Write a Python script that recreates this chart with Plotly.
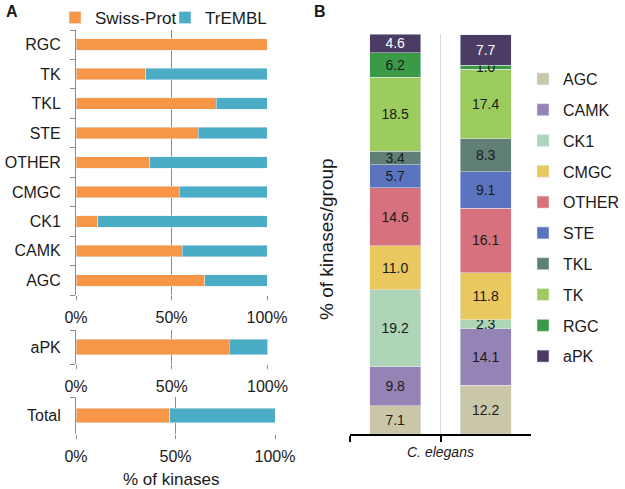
import plotly.graph_objects as go

# ---------------- data ----------------
groups_a = ["RGC", "TK", "TKL", "STE", "OTHER", "CMGC", "CK1", "CAMK", "AGC"]
swiss_a = [100.0, 36.6, 73.3, 63.9, 38.7, 54.1, 11.3, 55.5, 67.5]
trembl_a = [0.0, 63.4, 26.7, 36.1, 61.3, 45.9, 88.7, 44.5, 32.5]

apk_label = ["aPK"]
apk_swiss = [80.1]
apk_trembl = [19.9]

total_label = ["Total"]
total_swiss = [47.0]
total_trembl = [53.0]

groups_b = ["AGC", "CAMK", "CK1", "CMGC", "OTHER", "STE", "TKL", "TK", "RGC", "aPK"]
columns_b = ["col1", "col2"]
col1_b = [7.1, 9.8, 19.2, 11.0, 14.6, 5.7, 3.4, 18.5, 6.2, 4.6]
col2_b = [12.2, 14.1, 2.3, 11.8, 16.1, 9.1, 8.3, 17.4, 1.0, 7.7]

# ---------------- style ----------------
W, H = 625, 489
FONT = "Liberation Sans, Arial, sans-serif"
TXT = "#1a1a1a"
ORANGE = "#F79646"
BLUE = "#4BACC6"
GRID_A = "#8c8c8c"
colors_b = ["#C9C7A7", "#9583B6", "#AED5B7", "#E9C95F", "#D7717D",
            "#5B74C0", "#5F7F77", "#9DCC5E", "#3B9A48", "#4B3C63"]
text_colors_b = [TXT] * 9 + ["white"]


def px_x(p):
    return p / W


def px_y(p):
    return 1 - p / H


fig = go.Figure()

# Panel A main
fig.add_trace(go.Bar(x=swiss_a, y=groups_a, orientation="h", name="Swiss-Prot",
                     marker_color=ORANGE, width=0.39, xaxis="x", yaxis="y",
                     legend="legend"))
fig.add_trace(go.Bar(x=trembl_a, y=groups_a, orientation="h", name="TrEMBL",
                     marker_color=BLUE, width=0.39, xaxis="x", yaxis="y",
                     legend="legend3"))
# aPK
fig.add_trace(go.Bar(x=apk_swiss, y=apk_label, orientation="h", name="Swiss-Prot",
                     marker_color=ORANGE, width=0.45, xaxis="x2", yaxis="y2", showlegend=False))
fig.add_trace(go.Bar(x=apk_trembl, y=apk_label, orientation="h", name="TrEMBL",
                     marker_color=BLUE, width=0.45, xaxis="x2", yaxis="y2", showlegend=False))
# Total
fig.add_trace(go.Bar(x=total_swiss, y=total_label, orientation="h", name="Swiss-Prot",
                     marker_color=ORANGE, width=0.40, xaxis="x3", yaxis="y3", showlegend=False))
fig.add_trace(go.Bar(x=total_trembl, y=total_label, orientation="h", name="TrEMBL",
                     marker_color=BLUE, width=0.40, xaxis="x3", yaxis="y3", showlegend=False))

# Panel B
for i, g in enumerate(groups_b):
    vals = [col1_b[i], col2_b[i]]
    fig.add_trace(go.Bar(
        x=columns_b, y=vals, name=g, marker_color=colors_b[i], width=0.56,
        xaxis="x4", yaxis="y4", legend="legend2", legendgroup=g, legendrank=i + 1,
        text=[f"{v:.1f}" for v in vals], textposition="inside",
        insidetextanchor="middle", textangle=0,
        textfont=dict(size=14, color=text_colors_b[i], family=FONT),
        cliponaxis=False,
    ))

xa_common = dict(range=[0, 100], dtick=50, ticksuffix="%", showgrid=True,
                 gridcolor=GRID_A, gridwidth=1, zeroline=False, showline=False,
                 ticks="outside", ticklen=4, tickcolor=GRID_A, automargin=False,
                 tickfont=dict(size=16, color=TXT), ticklabelstandoff=4)
ya_common = dict(type="category", showline=True, linecolor=GRID_A, linewidth=1,
                 ticks="outside", tickson="boundaries", ticklen=5, tickcolor=GRID_A,
                 showgrid=False, zeroline=False, tickfont=dict(size=16, color=TXT),
                 ticklabelstandoff=11, fixedrange=True, automargin=False)

legend_common = dict(orientation="h", yanchor="top", xanchor="left",
                     font=dict(size=17, color=TXT), bgcolor="rgba(0,0,0,0)",
                     itemwidth=30, traceorder="normal")

fig.update_layout(
    width=W, height=H, autosize=False,
    margin=dict(l=0, r=0, t=0, b=0, autoexpand=False),
    paper_bgcolor="white", plot_bgcolor="white",
    font=dict(family=FONT, size=16, color=TXT),
    barmode="stack",
    uniformtext=dict(minsize=14, mode="show"),
    xaxis=dict(domain=[px_x(76), px_x(267)], anchor="y", **xa_common),
    yaxis=dict(domain=[px_y(295), px_y(30)], anchor="x",
               categoryorder="array", categoryarray=groups_a[::-1], **ya_common),
    xaxis2=dict(domain=[px_x(76), px_x(267.5)], anchor="y2", **xa_common),
    yaxis2=dict(domain=[px_y(364), px_y(330)], anchor="x2", **ya_common),
    xaxis3=dict(domain=[px_x(76), px_x(275)], anchor="y3", **xa_common),
    yaxis3=dict(domain=[px_y(434), px_y(397)], anchor="x3", **ya_common),
    xaxis4=dict(domain=[px_x(350), px_x(531)], anchor="y4", type="category",
                categoryorder="array", categoryarray=columns_b, automargin=False,
                showticklabels=False, showline=True, linecolor="black", linewidth=2,
                ticks="outside", tickson="boundaries", ticklen=6, tickcolor="black",
                tickwidth=1.5, showgrid=True, gridcolor="#d9d9d9", gridwidth=1,
                zeroline=False),
    yaxis4=dict(domain=[px_y(434), px_y(34)], anchor="x4", range=[0, 100.15],
                showgrid=False, showticklabels=False, showline=False, zeroline=False,
                ticks="", automargin=False),
    legend=dict(x=px_x(55), y=px_y(0), **legend_common),
    legend3=dict(x=px_x(165), y=px_y(0), **legend_common),
    legend2=dict(orientation="v", x=px_x(523), y=px_y(62), xanchor="left", yanchor="top",
                 font=dict(size=16, color=TXT), bgcolor="rgba(0,0,0,0)",
                 itemwidth=30, traceorder="grouped", tracegroupgap=7),
    annotations=[
        dict(text="<b>A</b>", x=px_x(4), y=px_y(11), xref="paper", yref="paper",
             xanchor="left", yanchor="middle", showarrow=False, font=dict(size=16)),
        dict(text="<b>B</b>", x=px_x(312), y=px_y(11), xref="paper", yref="paper",
             xanchor="left", yanchor="middle", showarrow=False, font=dict(size=16)),
        dict(text="% of kinases", x=px_x(171), y=px_y(479), xref="paper", yref="paper",
             xanchor="center", yanchor="middle", showarrow=False, font=dict(size=17)),
        dict(text="% of kinases/group", x=px_x(326), y=px_y(239), xref="paper", yref="paper",
             xanchor="center", yanchor="middle", showarrow=False, textangle=-90,
             font=dict(size=19)),
        dict(text="<i>C. elegans</i>", x=px_x(440), y=px_y(452), xref="paper", yref="paper",
             xanchor="center", yanchor="middle", showarrow=False, font=dict(size=14)),
    ],
)

fig.write_html("out.html", config={"displayModeBar": False},
               post_script="document.body.style.margin='0';")
